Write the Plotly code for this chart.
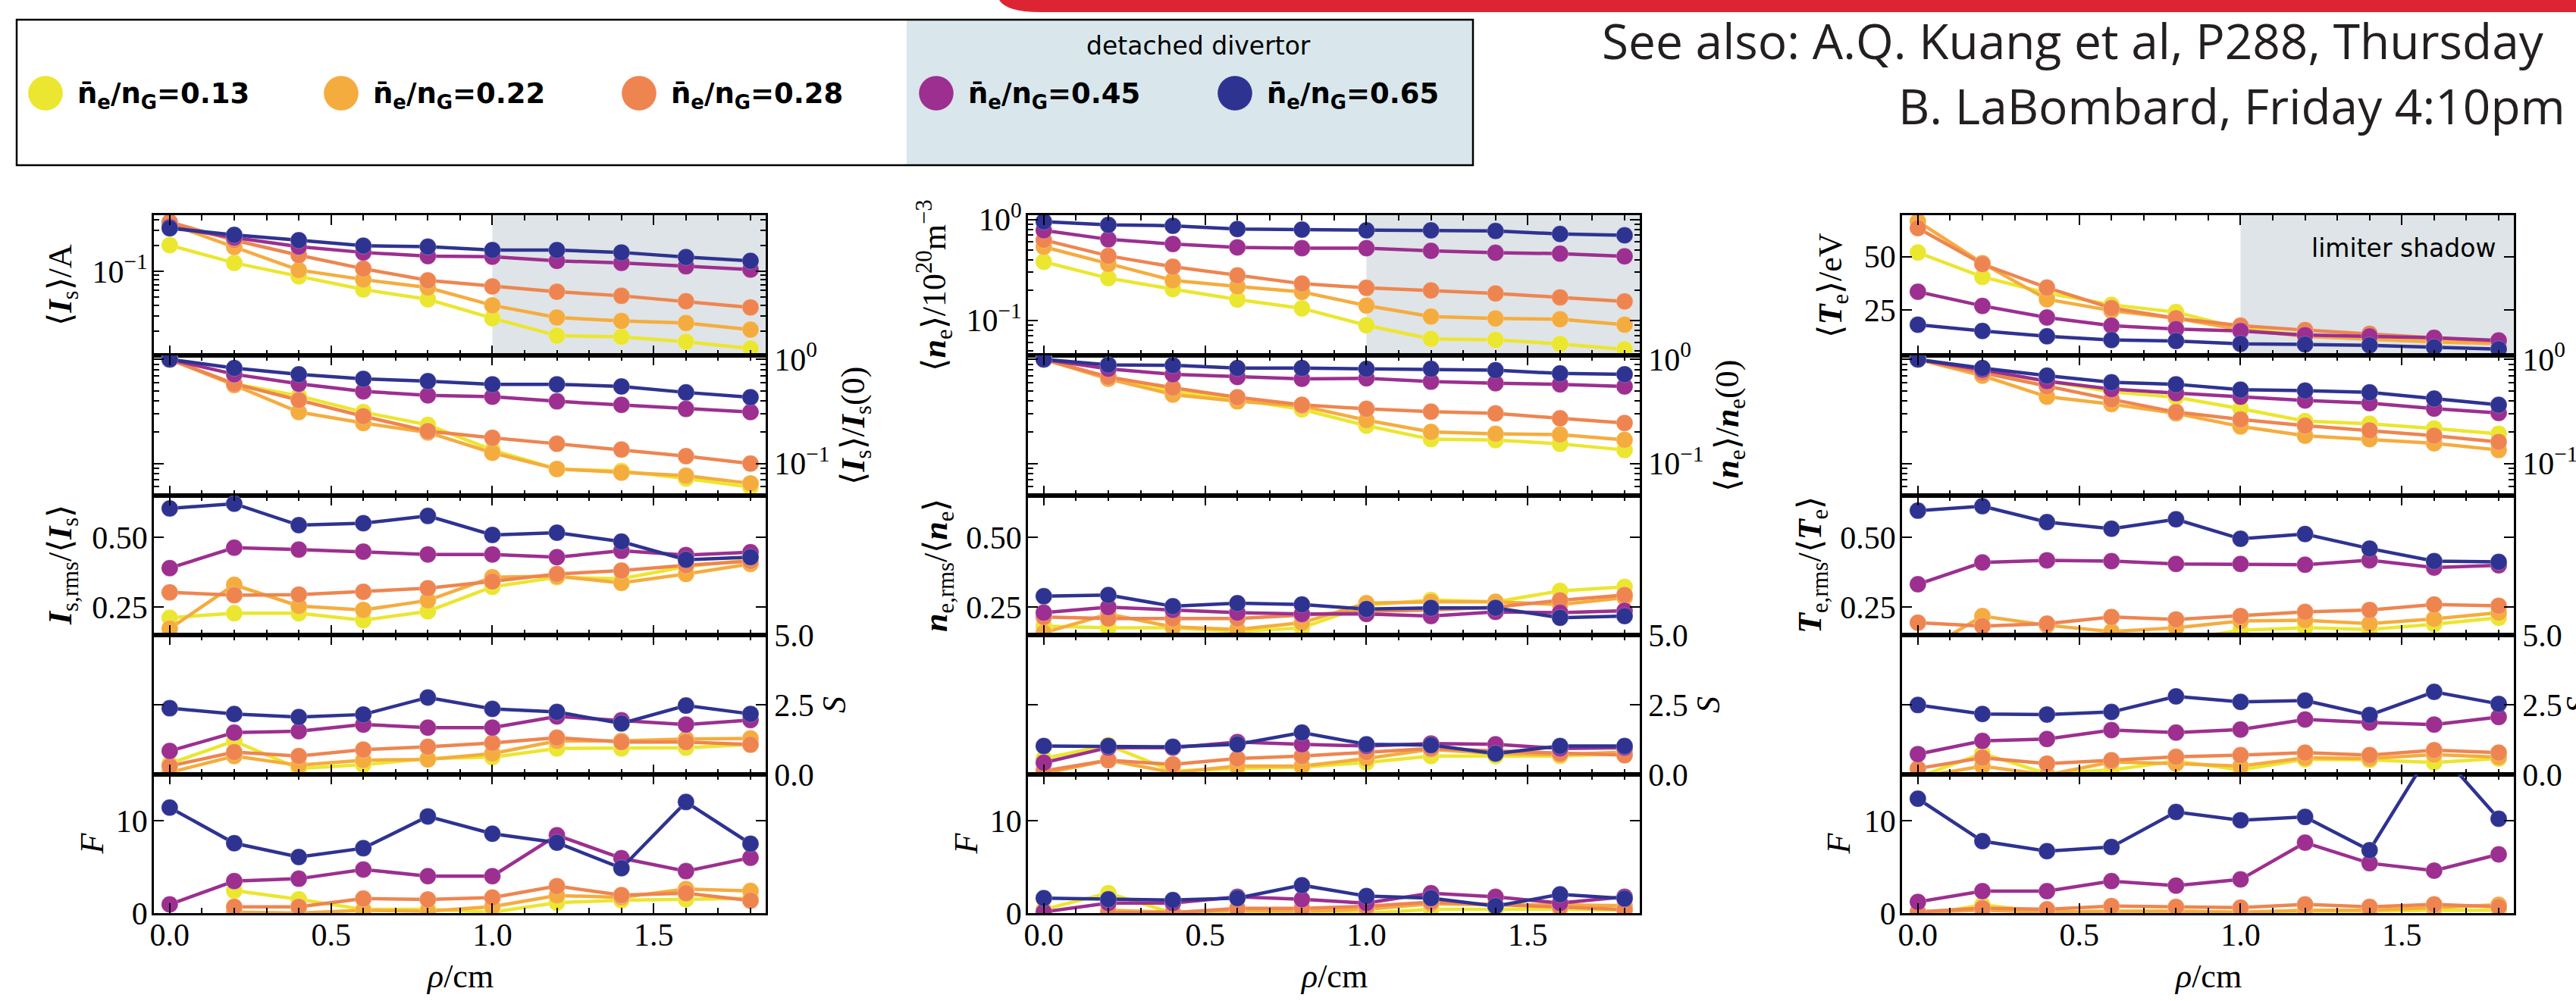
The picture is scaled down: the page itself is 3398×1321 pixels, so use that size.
import plotly.graph_objects as go

W, H = 3398, 1321

# ---------------- data ----------------
RHO = [0.0, 0.2, 0.4, 0.6, 0.8, 1.0, 1.2, 1.4, 1.6, 1.8]
DENSITY_LABELS = ["0.13", "0.22", "0.28", "0.45", "0.65"]
COLORS = ["#ebe62f", "#f5ac3e", "#ee8550", "#9c2f90", "#2e3391"]

# ion saturation current column (series order follows DENSITY_LABELS)
IS_MEAN = [
    [0.203, 0.126, 0.0877, 0.0614, 0.0471, 0.0283, 0.0177, 0.0171, 0.0150, 0.0125],
    [0.359, 0.193, 0.1037, 0.0804, 0.0646, 0.0401, 0.0289, 0.0263, 0.0249, 0.0208],
    [0.380, 0.232, 0.155, 0.1077, 0.0785, 0.0668, 0.0578, 0.0518, 0.0448, 0.0379],
    [0.333, 0.249, 0.195, 0.167, 0.151, 0.149, 0.133, 0.126, 0.115, 0.105],
    [0.321, 0.268, 0.232, 0.200, 0.195, 0.178, 0.178, 0.167, 0.147, 0.133],
]
IS_NORM = [
    [1.0, 0.584, 0.446, 0.312, 0.235, 0.135, 0.0888, 0.0851, 0.0720, 0.0594],
    [1.0, 0.567, 0.312, 0.245, 0.199, 0.127, 0.0888, 0.082, 0.0764, 0.0646],
    [1.0, 0.584, 0.407, 0.285, 0.205, 0.1765, 0.155, 0.1365, 0.118, 0.100],
    [1.0, 0.720, 0.584, 0.494, 0.452, 0.438, 0.396, 0.366, 0.335, 0.312],
    [1.0, 0.826, 0.720, 0.650, 0.619, 0.577, 0.577, 0.550, 0.482, 0.433],
]
IS_RMS = [
    [0.212, 0.228, 0.228, 0.203, 0.235, 0.3225, 0.357, 0.352, 0.395, 0.420],
    [0.173, 0.330, 0.254, 0.240, 0.274, 0.357, 0.361, 0.337, 0.369, 0.405],
    [0.303, 0.293, 0.295, 0.305, 0.318, 0.342, 0.369, 0.381, 0.400, 0.415],
    [0.390, 0.463, 0.4565, 0.449, 0.439, 0.439, 0.429, 0.452, 0.437, 0.447],
    [0.604, 0.621, 0.544, 0.551, 0.577, 0.509, 0.517, 0.485, 0.420, 0.429],
]
IS_SKEW = [
    [0.39, 1.20, 0.21, 0.35, 0.57, 0.62, 0.93, 0.93, 0.96, 1.07],
    [0.07, 0.66, 0.33, 0.51, 0.54, 0.75, 1.20, 1.20, 1.27, 1.29],
    [0.30, 0.80, 0.66, 0.89, 0.99, 1.13, 1.32, 1.16, 1.16, 1.07],
    [0.84, 1.50, 1.55, 1.79, 1.68, 1.68, 2.08, 1.94, 1.79, 1.95],
    [2.375, 2.168, 2.06, 2.15, 2.76, 2.35, 2.24, 1.83, 2.47, 2.17],
]
IS_FLAT = [
    [None, 2.43, 1.49, 0.4, 0.4, 0.1, 1.13, 1.4, 1.5, 1.6],
    [None, 0.1, 0.0, 0.3, 0.2, 0.7, 1.9, 1.7, 2.6, 2.4],
    [None, 0.67, 0.67, 1.57, 1.48, 1.68, 2.92, 1.94, 2.16, 1.35],
    [0.94, 3.46, 3.72, 4.72, 4.0, 4.0, 8.42, 5.94, 4.54, 5.99],
    [11.42, 7.56, 6.07, 7.02, 10.46, 8.59, 7.62, 4.86, 12.02, 7.50],
]

# electron density column
NE_MEAN = [
    [0.381, 0.262, 0.204, 0.161, 0.1315, 0.0893, 0.0654, 0.0641, 0.0583, 0.0515],
    [0.536, 0.362, 0.249, 0.217, 0.191, 0.140, 0.109, 0.1045, 0.1025, 0.0904],
    [0.628, 0.436, 0.340, 0.279, 0.231, 0.210, 0.198, 0.185, 0.169, 0.154],
    [0.782, 0.636, 0.571, 0.530, 0.520, 0.520, 0.489, 0.468, 0.459, 0.431],
    [0.955, 0.885, 0.868, 0.805, 0.795, 0.782, 0.782, 0.770, 0.719, 0.697],
]
NE_NORM = [
    [1.0, 0.665, 0.494, 0.413, 0.331, 0.231, 0.1715, 0.168, 0.155, 0.135],
    [1.0, 0.650, 0.460, 0.396, 0.357, 0.261, 0.2015, 0.193, 0.190, 0.169],
    [1.0, 0.678, 0.534, 0.433, 0.366, 0.335, 0.315, 0.303, 0.272, 0.245],
    [1.0, 0.811, 0.720, 0.678, 0.650, 0.658, 0.612, 0.591, 0.577, 0.550],
    [1.0, 0.888, 0.878, 0.826, 0.826, 0.811, 0.811, 0.787, 0.733, 0.720],
]
NE_RMS = [
    [0.182, 0.176, 0.176, 0.1625, 0.176, 0.2565, 0.276, 0.269, 0.308, 0.3225],
    [0.158, 0.2255, 0.179, 0.170, 0.194, 0.264, 0.269, 0.269, 0.2595, 0.284],
    [0.2147, 0.209, 0.209, 0.209, 0.221, 0.235, 0.240, 0.250, 0.2745, 0.2935],
    [0.230, 0.250, 0.240, 0.230, 0.2255, 0.2255, 0.218, 0.233, 0.230, 0.237],
    [0.289, 0.2935, 0.253, 0.264, 0.2595, 0.243, 0.247, 0.247, 0.212, 0.218],
]
NE_SKEW = [
    [0.57, 1.05, 0.12, 0.21, 0.26, 0.43, 0.66, 0.66, 0.66, 0.75],
    [0.03, 0.51, 0.07, 0.30, 0.30, 0.57, 0.90, 0.75, 0.71, 0.80],
    [0.12, 0.51, 0.36, 0.57, 0.66, 0.80, 0.93, 0.84, 0.75, 0.69],
    [0.42, 0.96, 0.96, 1.16, 1.08, 1.02, 1.11, 1.08, 0.93, 0.96],
    [1.02, 1.02, 0.99, 1.08, 1.50, 1.08, 1.05, 0.75, 1.02, 1.02],
]
NE_FLAT = [
    [0.4, 2.16, 0.0, 0.1, 0.1, 0.0, 0.4, 0.4, 0.4, 0.3],
    [None, 0.3, 0.1, 0.3, 0.2, 0.4, 1.0, 0.9, 0.9, 0.8],
    [None, 0.05, 0.05, 0.51, 0.51, 0.73, 1.19, 0.92, 0.65, 0.38],
    [0.13, 1.08, 1.08, 1.76, 1.49, 1.08, 2.16, 1.76, 1.08, 1.76],
    [1.62, 1.49, 1.41, 1.62, 3.02, 1.84, 1.62, 0.76, 2.02, 1.57],
]

# electron temperature column
TE_MEAN = [
    [51.9, 40.5, 33.0, 27.5, 24.1, 16.5, 13.4, 12.4, 11.1, 9.8],
    [66.4, 46.9, 30.1, 24.8, 21.2, 15.9, 12.8, 11.5, 10.2, 9.4],
    [63.3, 46.5, 35.5, 26.0, 21.2, 17.8, 15.7, 14.0, 12.1, 10.3],
    [33.6, 27.0, 21.6, 17.8, 16.2, 15.3, 13.4, 12.8, 12.1, 10.9],
    [18.2, 15.3, 12.8, 11.1, 10.6, 9.3, 9.0, 8.6, 7.7, 6.8],
]
TE_NORM = [
    [1.0, 0.764, 0.619, 0.489, 0.433, 0.337, 0.256, 0.241, 0.2175, 0.193],
    [1.0, 0.698, 0.438, 0.373, 0.303, 0.227, 0.185, 0.1715, 0.1565, 0.135],
    [1.0, 0.742, 0.550, 0.413, 0.312, 0.265, 0.231, 0.2085, 0.185, 0.1615],
    [1.0, 0.796, 0.619, 0.518, 0.474, 0.438, 0.403, 0.380, 0.337, 0.306],
    [1.0, 0.826, 0.698, 0.602, 0.577, 0.512, 0.502, 0.482, 0.420, 0.366],
]
TE_RMS = [
    [0.08, 0.10, 0.12, 0.12, 0.13, 0.167, 0.176, 0.170, 0.189, 0.212],
    [0.08, 0.218, 0.185, 0.1625, 0.176, 0.200, 0.203, 0.191, 0.208, 0.230],
    [0.194, 0.182, 0.191, 0.2147, 0.206, 0.218, 0.233, 0.240, 0.2595, 0.2545],
    [0.332, 0.410, 0.418, 0.415, 0.405, 0.405, 0.402, 0.418, 0.392, 0.400],
    [0.596, 0.612, 0.555, 0.531, 0.565, 0.495, 0.512, 0.460, 0.415, 0.412],
]
TE_SKEW = [
    [-0.1, 0.75, 0.03, 0.16, 0.48, 0.16, 0.54, 0.52, 0.43, 0.57],
    [-0.1, 0.30, -0.02, 0.45, 0.39, 0.30, 0.60, 0.57, 0.71, 0.62],
    [0.21, 0.60, 0.39, 0.51, 0.63, 0.69, 0.78, 0.69, 0.87, 0.78],
    [0.73, 1.20, 1.27, 1.59, 1.50, 1.61, 1.97, 1.86, 1.79, 2.06],
    [2.49, 2.17, 2.15, 2.24, 2.80, 2.60, 2.65, 2.13, 2.96, 2.53],
]
TE_FLAT = [
    [-0.3, 0.9, 0.1, 0.2, 0.2, 0.1, 0.2, 0.2, 0.3, 0.3],
    [0.1, 0.3, 0.1, 0.2, 0.2, 0.1, 0.3, 0.3, 0.6, 0.9],
    [0.13, 0.54, 0.41, 0.76, 0.67, 0.59, 0.94, 0.67, 0.94, 0.67],
    [1.21, 2.37, 2.37, 3.46, 2.97, 3.64, 7.62, 5.40, 4.59, 6.35],
    [12.37, 7.78, 6.70, 7.15, 10.94, 10.05, 10.40, 6.80, 18.1, 10.21],
]

PANELS = [
    [IS_MEAN, IS_NORM, IS_RMS, IS_SKEW, IS_FLAT],
    [NE_MEAN, NE_NORM, NE_RMS, NE_SKEW, NE_FLAT],
    [TE_MEAN, TE_NORM, TE_RMS, TE_SKEW, TE_FLAT],
]

Y_TITLES = [
    ["⟨<b><i>I</i></b><sub>s</sub>⟩/A",
     "⟨<b><i>I</i></b><sub>s</sub>⟩/<b><i>I</i></b><sub>s</sub>(0)",
     "<b><i>I</i></b><sub>s,rms</sub>/⟨<b><i>I</i></b><sub>s</sub>⟩",
     "<i>S</i>", "<i>F</i>"],
    ["⟨<b><i>n</i></b><sub>e</sub>⟩/10<sup>20</sup>m<sup>−3</sup>",
     "⟨<b><i>n</i></b><sub>e</sub>⟩/<b><i>n</i></b><sub>e</sub>(0)",
     "<b><i>n</i></b><sub>e,rms</sub>/⟨<b><i>n</i></b><sub>e</sub>⟩",
     "<i>S</i>", "<i>F</i>"],
    ["⟨<b><i>T</i></b><sub>e</sub>⟩/eV",
     None,
     "<b><i>T</i></b><sub>e,rms</sub>/⟨<b><i>T</i></b><sub>e</sub>⟩",
     "<i>S</i>", "<i>F</i>"],
]
X_TITLE = "<i>ρ</i>/cm"
SHADOW_START = 1.0

# ---------------- layout helpers ----------------
def px(x):
    return x / W


def py(y):
    return 1 - y / H


COL_LEFT = [203, 1356, 2509]
COL_W = 807
ROW_TOP = [284, 469, 654, 838, 1022]
ROW_BOT = [469, 654, 838, 1022, 1205]
X_RANGE = [-0.049, 1.847]

SERIF = "Liberation Serif"
TICKFONT = dict(family=SERIF, size=42, color="black")
MINOR_LOG = [m * 10.0 ** e for e in (-3, -2, -1, 0) for m in range(2, 10)]

AX_COMMON = dict(
    showline=True, linewidth=2.6, linecolor="black", mirror="ticks",
    ticks="inside", ticklen=13, tickwidth=2, tickcolor="black",
    showgrid=False, zeroline=False, tickfont=TICKFONT, automargin=False,
)
LOG_MINOR = dict(tickmode="array", tickvals=MINOR_LOG, ticks="inside",
                 ticklen=7, tickwidth=1.5, tickcolor="black")


def yaxis_cfg(col, row):
    cfg = dict(AX_COMMON)
    if row == 0:
        if col == 0:
            cfg.update(type="log", range=[-1.984, -0.341], tickmode="array",
                       tickvals=[0.1], ticktext=["10<sup>−1</sup>"], minor=LOG_MINOR)
        elif col == 1:
            cfg.update(type="log", range=[-1.348, 0.043], tickmode="array",
                       tickvals=[0.1, 1], ticktext=["10<sup>−1</sup>", "10<sup>0</sup>"],
                       minor=LOG_MINOR)
        else:
            cfg.update(range=[3.9, 69.3], tickmode="array", tickvals=[25, 50],
                       ticktext=["25", "50"])
        cfg["side"] = "left"
    elif row == 1:
        cfg.update(type="log", range=[-1.307, 0.0385], tickmode="array",
                   tickvals=[0.1, 1], ticktext=["10<sup>−1</sup>", "10<sup>0</sup>"],
                   minor=LOG_MINOR, side="right")
    elif row == 2:
        cfg.update(range=[0.15, 0.65], tickmode="array", tickvals=[0.25, 0.5],
                   ticktext=["0.25", "0.50"], side="left")
    elif row == 3:
        cfg.update(range=[0, 5], tickmode="array", tickvals=[0, 2.5, 5],
                   ticktext=["0.0", "2.5", "5.0"], side="right")
    else:
        cfg.update(range=[0, 15], tickmode="array", tickvals=[0, 10],
                   ticktext=["0", "10"], side="left")
    if cfg["side"] == "left":
        cfg["ticklabelstandoff"] = -3
    return cfg


fig = go.Figure()
layout = dict(
    width=W, height=H, autosize=False,
    margin=dict(l=0, r=0, t=0, b=0, pad=0, autoexpand=False),
    paper_bgcolor="white", plot_bgcolor="rgba(0,0,0,0)", showlegend=False,
)
shapes = []
annotations = []

for c in range(3):
    for r in range(5):
        k = c * 5 + r + 1
        xa = "x" if k == 1 else f"x{k}"
        ya = "y" if k == 1 else f"y{k}"
        xkey = "xaxis" if k == 1 else f"xaxis{k}"
        ykey = "yaxis" if k == 1 else f"yaxis{k}"
        xcfg = dict(AX_COMMON)
        xcfg.update(
            domain=[px(COL_LEFT[c]), px(COL_LEFT[c] + COL_W)], anchor=ya,
            range=X_RANGE, tickmode="linear", tick0=0, dtick=0.5,
            tickformat=".1f", showticklabels=(r == 4), ticklabelstandoff=-10,
            minor=dict(dtick=0.1, tick0=0, ticks="inside", ticklen=7,
                       tickwidth=1.5, tickcolor="black"),
        )
        layout[xkey] = xcfg
        ycfg = yaxis_cfg(c, r)
        ycfg.update(domain=[py(ROW_BOT[r]), py(ROW_TOP[r])], anchor=xa)
        layout[ykey] = ycfg

        for i, series in enumerate(PANELS[c][r]):
            fig.add_trace(go.Scatter(
                x=RHO, y=series, xaxis=xa, yaxis=ya, mode="lines+markers",
                name="n̄e/nG=" + DENSITY_LABELS[i],
                line=dict(color=COLORS[i], width=4.5),
                marker=dict(color=COLORS[i], size=22,
                            line=dict(color="rgba(255,255,255,0.25)", width=1)),
                showlegend=False,
            ))

        if r == 0:
            shapes.append(dict(type="rect", xref=xa, yref=f"{ya} domain",
                               x0=SHADOW_START, x1=X_RANGE[1], y0=0, y1=1,
                               fillcolor="#dee4e7", line=dict(width=0), layer="below"))

# ---------------- axis titles ----------------
TITLE_X = [
    [82, 1128, 82, 1100, 121],
    [1232, 2281, 1237, 2253, 1274],
    [2417, 3434, 2390, 3400, 2425],
]
for c in range(3):
    for r in range(5):
        if Y_TITLES[c][r] is None:
            continue
        annotations.append(dict(
            text=Y_TITLES[c][r], xref="paper", yref="paper",
            x=px(TITLE_X[c][r]), y=py((ROW_TOP[r] + ROW_BOT[r]) / 2),
            xanchor="center", yanchor="middle", textangle=-90, showarrow=False,
            font=dict(family=SERIF, size=44, color="black"),
        ))
    annotations.append(dict(
        text=X_TITLE, xref="paper", yref="paper",
        x=px(COL_LEFT[c] + COL_W / 2), y=py(1288),
        xanchor="center", yanchor="middle", showarrow=False,
        font=dict(family=SERIF, size=44, color="black"),
    ))

annotations.append(dict(
    text="limiter shadow", xref="paper", yref="paper", x=px(3170), y=py(327),
    xanchor="center", yanchor="middle", showarrow=False,
    font=dict(family="DejaVu Sans", size=33, color="black"),
))

# ---------------- legend (drawn manually) ----------------
shapes.append(dict(type="rect", xref="paper", yref="paper",
                   x0=px(1196), x1=px(1943), y0=py(218), y1=py(26),
                   fillcolor="#d9e7ec", line=dict(width=0)))
shapes.append(dict(type="rect", xref="paper", yref="paper",
                   x0=px(22), x1=px(1943), y0=py(218), y1=py(26),
                   fillcolor="rgba(0,0,0,0)", line=dict(color="black", width=2.5)))
LEG_X = [60, 450, 843, 1235, 1629]
for i, lab in enumerate(DENSITY_LABELS):
    shapes.append(dict(type="circle", xref="paper", yref="paper",
                       xsizemode="pixel", ysizemode="pixel",
                       xanchor=px(LEG_X[i]), yanchor=py(123),
                       x0=-23, x1=23, y0=-23, y1=23,
                       fillcolor=COLORS[i], line=dict(color="rgba(255,255,255,0.3)", width=1)))
    annotations.append(dict(
        text="<b>n\u0304<sub>e</sub>/n<sub>G</sub>=" + lab + "</b>",
        xref="paper", yref="paper", x=px(LEG_X[i] + 40), y=py(126),
        xanchor="left", yanchor="middle", showarrow=False,
        font=dict(family="DejaVu Sans", size=37, color="black"),
    ))
annotations.append(dict(
    text="detached divertor", xref="paper", yref="paper", x=px(1581), y=py(61),
    xanchor="center", yanchor="middle", showarrow=False,
    font=dict(family="DejaVu Sans", size=33, color="black"),
))

# ---------------- slide decorations ----------------
shapes.append(dict(
    type="path", xref="paper", yref="paper",
    path=(f"M {px(1318)},{py(0)} L 1,{py(0)} L 1,{py(16)} L {px(1372)},{py(16)} "
          f"Q {px(1328)},{py(16)} {px(1318)},{py(0)} Z"),
    fillcolor="#dc2433", line=dict(width=0),
))
annotations.append(dict(
    text="See also: A.Q. Kuang et al, P288, Thursday", xref="paper", yref="paper",
    x=px(3358), y=py(54), xanchor="right", yanchor="middle", showarrow=False,
    font=dict(family="Open Sans", size=64, color="#231f20"),
))
annotations.append(dict(
    text="B. LaBombard, Friday 4:10pm", xref="paper", yref="paper",
    x=px(3386), y=py(139), xanchor="right", yanchor="middle", showarrow=False,
    font=dict(family="Open Sans", size=64, color="#231f20"),
))

layout["shapes"] = shapes
layout["annotations"] = annotations
fig.update_layout(**layout)
fig.write_html("out.html")
